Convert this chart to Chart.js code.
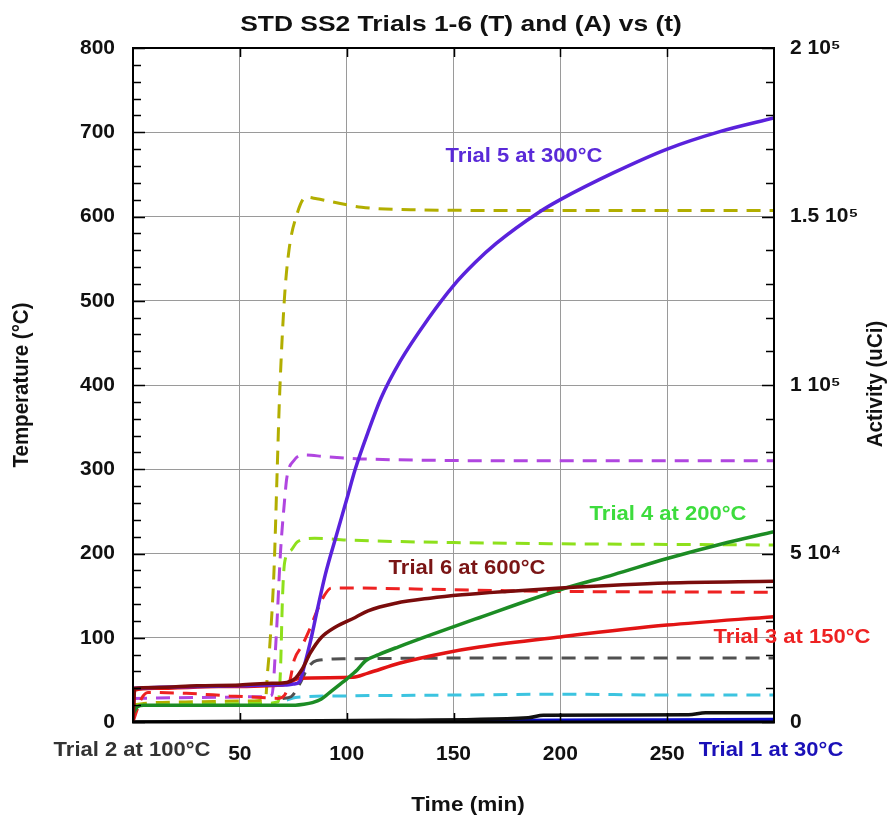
<!DOCTYPE html>
<html>
<head>
<meta charset="utf-8">
<script src="https://cdn.jsdelivr.net/npm/chart.js@4.4.1/dist/chart.umd.min.js"></script>
<style>
  html, body { margin: 0; padding: 0; background: #fff; }
  canvas { display: block; }
</style>
</head>
<body>
<canvas id="chart" width="892" height="824"></canvas>
<script>
// activity curves (uCi, right axis) - solid lines
const act5Time = [0, 10, 30, 50, 65, 72, 75, 78, 80, 83, 86, 90, 95, 100, 104, 110, 116, 125, 138, 150, 160, 170, 190, 200, 225, 250, 275, 300];
const act5 = [10000, 10250, 10500, 10750, 11000, 11000, 11250, 12000, 16250, 23750, 32500, 43750, 55000, 66000, 75000, 86000, 96000, 107000, 119500, 129500, 136250, 142000, 151250, 155000, 163000, 170000, 175250, 179250];

const act6Time = [0, 0.8, 10, 30, 50, 65, 72, 76, 79, 83, 88, 95, 104, 110, 123, 139, 154, 175, 200, 250, 300];
const act6 = [0, 10000, 10250, 10750, 11000, 11500, 11750, 13000, 15500, 20500, 25000, 28250, 31000, 33000, 35250, 36750, 37750, 38750, 39750, 41250, 41750];

const act3Time = [0, 0.8, 10, 40, 70, 74, 78, 103, 110, 125, 146, 162, 200, 250, 300];
const act3 = [0, 9500, 10000, 10500, 11000, 12000, 13000, 13250, 14500, 17500, 20500, 22250, 25250, 28750, 31250];

const act4Time = [0, 2, 5, 70, 76, 80, 84, 88, 93, 97, 100, 105, 109, 115, 124, 140, 160, 200, 225, 250, 275, 300];
const act4 = [2500, 4500, 5000, 5000, 5000, 5250, 5750, 6750, 9250, 11250, 12750, 15500, 18250, 20000, 22250, 26000, 30500, 39250, 43750, 48500, 52750, 56500];

const act2Time = [0, 120, 185, 192, 260, 268, 300];
const act2 = [0, 500, 1250, 2000, 2125, 2750, 2750];

const act1Time = [105, 150, 200, 250, 300];
const act1 = [250, 375, 500, 625, 750];

// temperature curves (deg C, left axis) - dashed lines
const temp6Time = [0, 5, 30, 55, 62, 63, 64, 66, 67.5, 68.5, 70.8, 73, 76.4, 81, 86, 92, 107, 130, 200, 300];
const temp6 = [20, 22, 24, 25, 27, 60, 90, 180, 300, 380, 500, 560, 600, 623, 621, 618, 611, 608, 607, 607];

const temp5Time = [0, 30, 60, 65, 67, 69, 71, 72, 75.5, 80, 90, 110, 200, 300];
const temp5 = [28, 29, 30, 32, 100, 200, 265, 290, 311, 317, 315, 312, 310, 310];

const temp4Time = [0, 30, 60, 68, 69, 70, 71, 74, 77, 85, 100, 150, 300];
const temp4 = [20, 21, 22, 24, 60, 150, 190, 204, 214, 218, 216, 213, 210];

const temp3Time = [0, 2, 4, 7, 25, 45, 60, 68, 71, 73.5, 75.5, 79, 82.5, 86.3, 89.5, 92.8, 100, 150, 200, 300];
const temp3 = [0, 15, 28, 35, 34, 31, 29, 28, 32, 50, 74, 90, 109, 133, 150, 159, 159, 157, 155, 154];

const temp2Time = [70, 74, 78, 82, 86, 100, 200, 300];
const temp2 = [28, 30, 45, 65, 73, 75, 76, 76];

const temp1Time = [72, 76, 80, 100, 150, 200, 250, 300];
const temp1 = [26, 29, 30, 31, 32, 33, 32, 32];

const rightTickLabels = { 0: '0', 50000: '5 10\u2074', 100000: '1 10\u2075', 150000: '1.5 10\u2075', 200000: '2 10\u2075' };

function pts(ts, vs) {
  return ts.map((t, i) => ({ x: t, y: vs[i] }));
}

function solid(data, color, axis) {
  return {
    data: data, borderColor: color, borderWidth: 3.5, pointRadius: 0,
    yAxisID: axis, cubicInterpolationMode: 'monotone', fill: false,
  };
}

function dashed(data, color) {
  const ds = solid(data, color, 'y');
  ds.borderDash = [14, 9];
  ds.borderWidth = 3;
  return ds;
}

const tickFont = { family: '"Liberation Sans", Arial, sans-serif', size: 21, weight: 'bold' };

// text drawn stretched a bit wider, like the original picture
function wideText(ctx, text, x, y, font, color, sx, rot) {
  ctx.save();
  ctx.translate(x, y);
  ctx.scale(sx, 1);
  if (rot) ctx.rotate(rot);
  ctx.font = font;
  ctx.fillStyle = color;
  ctx.textAlign = 'center';
  ctx.textBaseline = 'middle';
  ctx.fillText(text, 0, 0);
  ctx.restore();
}

const seriesLabels = [
  { text: 'Trial 5 at 300\u00b0C', x: 524, y: 156, color: '#5a2ad8' },
  { text: 'Trial 4 at 200\u00b0C', x: 668, y: 514, color: '#3ddc3d' },
  { text: 'Trial 6 at 600\u00b0C', x: 467, y: 568, color: '#7a1515' },
  { text: 'Trial 3 at 150\u00b0C', x: 792, y: 637, color: '#ee2222' },
  { text: 'Trial 2 at 100\u00b0C', x: 132, y: 750, color: '#333333' },
  { text: 'Trial 1 at 30\u00b0C', x: 771, y: 750, color: '#1a10b8' },
];

const background = {
  id: 'background',
  beforeDraw(chart) {
    const ctx = chart.ctx;
    ctx.save();
    ctx.fillStyle = '#fff';
    ctx.fillRect(0, 0, chart.width, chart.height);
    ctx.restore();
  },
};

const frameAndText = {
  id: 'frameAndText',
  afterDraw(chart) {
    const { ctx, chartArea: a, scales: { x, y, y1 } } = chart;
    ctx.save();
    ctx.strokeStyle = '#000';
    ctx.lineWidth = 1.5;
    ctx.beginPath();
    // inward minor ticks, left axis
    for (let v = 0; v <= 800; v += 20) {
      const py = Math.round(y.getPixelForValue(v)) + 0.5;
      const len = v % 100 === 0 ? 12 : 8;
      ctx.moveTo(a.left, py);
      ctx.lineTo(a.left + len, py);
    }
    // inward ticks, right axis
    for (let v = 0; v <= 200000; v += 10000) {
      const py = Math.round(y1.getPixelForValue(v)) + 0.5;
      const len = v % 50000 === 0 ? 12 : 8;
      ctx.moveTo(a.right, py);
      ctx.lineTo(a.right - len, py);
    }
    // x ticks top and bottom
    for (let v = 50; v < 300; v += 50) {
      const px = Math.round(x.getPixelForValue(v)) + 0.5;
      ctx.moveTo(px, a.bottom);
      ctx.lineTo(px, a.bottom - 9);
      ctx.moveTo(px, a.top);
      ctx.lineTo(px, a.top + 9);
    }
    ctx.stroke();
    ctx.lineWidth = 2;
    ctx.strokeRect(a.left, a.top, a.right - a.left, a.bottom - a.top);
    ctx.lineWidth = 3;
    ctx.beginPath();
    ctx.moveTo(a.left - 1, a.bottom);
    ctx.lineTo(a.right + 1, a.bottom);
    ctx.stroke();
    ctx.restore();

    const bold = (s) => 'bold ' + s + 'px "Liberation Sans", Arial, sans-serif';
    wideText(ctx, 'STD SS2 Trials 1-6 (T) and (A) vs (t)', 461, 25, bold(22), '#111', 1.2);
    wideText(ctx, 'Temperature (\u00b0C)', 22, 385, bold(20.5), '#111', 1.1, -Math.PI / 2);
    wideText(ctx, 'Activity (uCi)', 876, 384, bold(20.5), '#111', 1.1, -Math.PI / 2);
    wideText(ctx, 'Time (min)', 468, 805, bold(20.5), '#111', 1.1);
    seriesLabels.forEach((l) => wideText(ctx, l.text, l.x, l.y, bold(20), l.color, 1.1));
  },
};

// first dataset is drawn on top
const datasets = [
  solid(pts(act6Time, act6), '#7a0c0c', 'y1'),
  solid(pts(act5Time, act5), '#5a22dc', 'y1'),
  solid(pts(act4Time, act4), '#1c8c24', 'y1'),
  solid(pts(act3Time, act3), '#e21414', 'y1'),
  solid(pts(act2Time, act2), '#111111', 'y1'),
  solid(pts(act1Time, act1), '#0a0ac8', 'y1'),
  dashed(pts(temp3Time, temp3), '#ee2222'),
  dashed(pts(temp2Time, temp2), '#505050'),
  dashed(pts(temp1Time, temp1), '#3cc4e0'),
  dashed(pts(temp4Time, temp4), '#8ee01c'),
  dashed(pts(temp5Time, temp5), '#b046e0'),
  dashed(pts(temp6Time, temp6), '#b2ae00'),
];

const config = {
  type: 'line',
  data: { datasets: datasets },
  options: {
    responsive: false,
    animation: false,
    layout: { padding: { top: 48, left: 0, right: 0, bottom: 0 } },
    plugins: {
      legend: { display: false },
      title: { display: false },
      tooltip: { enabled: false },
    },
    scales: {
      x: {
        type: 'linear', min: 0, max: 300,
        afterFit: (s) => { s.height = 102; },
        ticks: {
          stepSize: 50, autoSkip: false, maxRotation: 0, padding: 20,
          font: tickFont, color: '#111',
          callback: (v) => (v === 0 || v === 300 ? '' : v),
        },
        grid: { color: '#9a9a9a', lineWidth: 1, drawTicks: false },
        border: { display: false },
      },
      y: {
        position: 'left', min: 0, max: 800,
        afterFit: (s) => { s.width = 133; },
        ticks: { stepSize: 100, padding: 18, font: tickFont, color: '#111' },
        grid: { color: '#9a9a9a', lineWidth: 1, drawTicks: false },
        border: { display: false },
      },
      y1: {
        position: 'right', min: 0, max: 200000,
        afterFit: (s) => { s.width = 118; },
        ticks: {
          stepSize: 50000, padding: 16, font: tickFont, color: '#111',
          callback: (v) => rightTickLabels[v] || '',
        },
        grid: { display: false, drawTicks: false },
        border: { display: false },
      },
    },
  },
  plugins: [background, frameAndText],
};

const myChart = new Chart(document.getElementById('chart'), config);
</script>
</body>
</html>
